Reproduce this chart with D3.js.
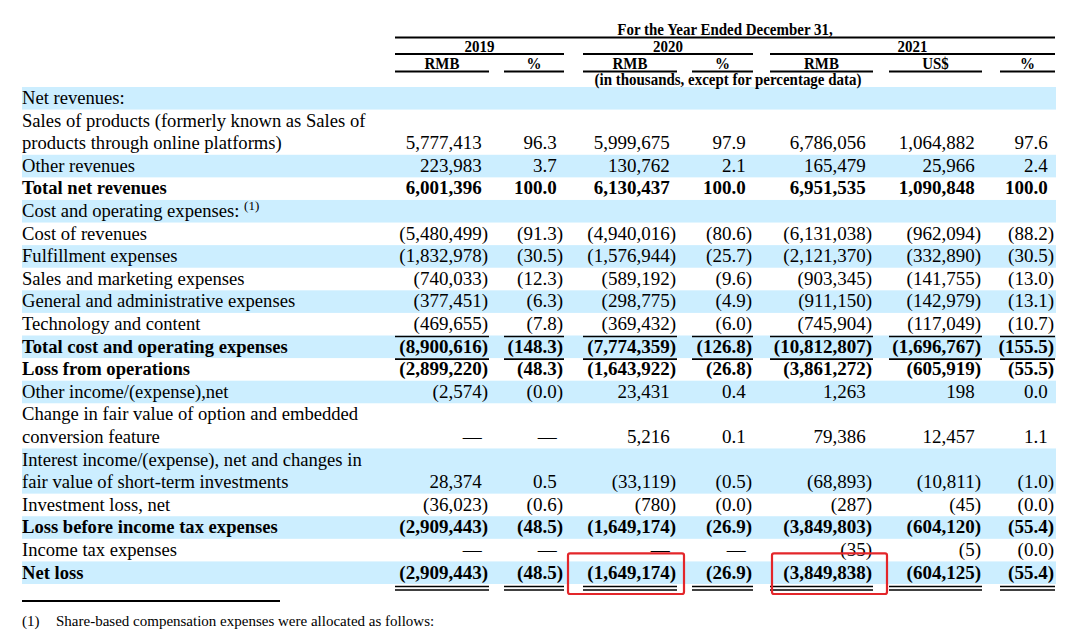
<!DOCTYPE html>
<html>
<head>
<meta charset="utf-8">
<script src="https://cdn.jsdelivr.net/npm/d3@7/dist/d3.min.js"></script>
<style>
  html, body { margin: 0; padding: 0; background: #fff; }
  svg { display: block; }
  text { font-family: "Liberation Serif", "Times New Roman", serif; fill: #000; }
</style>
</head>
<body>
<svg id="chart" width="1087" height="632"></svg>
<script>
// ---------- data ----------
const labels = [
  ["Net revenues:"],
  ["Sales of products (formerly known as Sales of", "products through online platforms)"],
  ["Other revenues"],
  ["Total net revenues"],
  ["Cost and operating expenses:"],
  ["Cost of revenues"],
  ["Fulfillment expenses"],
  ["Sales and marketing expenses"],
  ["General and administrative expenses"],
  ["Technology and content"],
  ["Total cost and operating expenses"],
  ["Loss from operations"],
  ["Other income/(expense),net"],
  ["Change in fair value of option and embedded", "conversion feature"],
  ["Interest income/(expense), net and changes in", "fair value of short-term investments"],
  ["Investment loss, net"],
  ["Loss before income tax expenses"],
  ["Income tax expenses"],
  ["Net loss"]
];
const boldRows = [3, 10, 11, 16, 18];
const footnoteRows = [4];

const rmb2019 = [null, 5777413, 223983, 6001396, null, -5480499, -1832978, -740033, -377451, -469655, -8900616, -2899220, -2574, "—", 28374, -36023, -2909443, "—", -2909443];
const pct2019 = [null, 96.3, 3.7, 100.0, null, -91.3, -30.5, -12.3, -6.3, -7.8, -148.3, -48.3, -0.0, "—", 0.5, -0.6, -48.5, "—", -48.5];
const rmb2020 = [null, 5999675, 130762, 6130437, null, -4940016, -1576944, -589192, -298775, -369432, -7774359, -1643922, 23431, 5216, -33119, -780, -1649174, "—", -1649174];
const pct2020 = [null, 97.9, 2.1, 100.0, null, -80.6, -25.7, -9.6, -4.9, -6.0, -126.8, -26.8, 0.4, 0.1, -0.5, -0.0, -26.9, "—", -26.9];
const rmb2021 = [null, 6786056, 165479, 6951535, null, -6131038, -2121370, -903345, -911150, -745904, -10812807, -3861272, 1263, 79386, -68893, -287, -3849803, -35, -3849838];
const usd2021 = [null, 1064882, 25966, 1090848, null, -962094, -332890, -141755, -142979, -117049, -1696767, -605919, 198, 12457, -10811, -45, -604120, -5, -604125];
const pct2021 = [null, 97.6, 2.4, 100.0, null, -88.2, -30.5, -13.0, -13.1, -10.7, -155.5, -55.5, 0.0, 1.1, -1.0, -0.0, -55.4, -0.0, -55.4];

const columns = [
  { key: "rmb2019", head: "RMB", values: rmb2019, pct: false },
  { key: "pct2019", head: "%",   values: pct2019, pct: true },
  { key: "rmb2020", head: "RMB", values: rmb2020, pct: false },
  { key: "pct2020", head: "%",   values: pct2020, pct: true },
  { key: "rmb2021", head: "RMB", values: rmb2021, pct: false },
  { key: "usd2021", head: "US$", values: usd2021, pct: false },
  { key: "pct2021", head: "%",   values: pct2021, pct: true }
];
const years = [
  { year: "2019", from: 0, to: 1 },
  { year: "2020", from: 2, to: 3 },
  { year: "2021", from: 4, to: 6 }
];
const titleText = "For the Year Ended December 31,";
const unitText = "(in thousands, except for percentage data)";
const footnoteMark = "(1)";
const footnoteText = "Share-based compensation expenses were allocated as follows:";
const highlighted = ["rmb2020", "rmb2021"];   // red boxes on Net loss row
const underlineAfter = [9, 10];                // single rules
const doubleAfter = [18];                      // double rule

// ---------- layout ----------
const svg = d3.select("#chart");
const LABEL_X = 22, BAND_RIGHT = 1056;
const colLeft = d3.scaleOrdinal().domain(columns.map(c => c.key)).range([395, 504, 583, 692, 770, 889, 1000]);
const colRight = d3.scaleOrdinal().domain(columns.map(c => c.key)).range([489, 564, 677, 753, 873, 982, 1055]);

// row units (two-line labels take two units)
const units = labels.map(l => l.length);
const starts = d3.cumsum([0, ...units]);
const totalUnits = d3.sum(units);
const y = d3.scaleLinear().domain([0, totalUnits]).range([87, 584]);

const LABEL_FS = 18.6, NUM_FS = 19;
const HEAD_FS = 17, HEAD_SX = 0.88;

// bands
svg.append("g").selectAll("rect")
  .data(labels.map((l, i) => i).filter(i => i % 2 === 0))
  .join("rect")
  .attr("x", LABEL_X).attr("width", BAND_RIGHT - LABEL_X)
  .attr("y", i => y(starts[i])).attr("height", i => y(starts[i + 1]) - y(starts[i]))
  .attr("fill", "#cceeff");

// labels
const lab = svg.append("g");
labels.forEach((lines, i) => {
  lines.forEach((line, j) => {
    const t = lab.append("text")
      .attr("x", LABEL_X)
      .attr("y", y(starts[i] + j + 1) - 5.5)
      .attr("font-size", LABEL_FS)
      .attr("font-weight", boldRows.includes(i) ? "bold" : "normal")
      .text(line);
    if (footnoteRows.includes(i) && j === lines.length - 1) {
      t.append("tspan").text("\u00a0");
      t.append("tspan").attr("font-size", 13).attr("dy", -7).text("(1)");
    }
  });
});

// measure paren width
const probe = svg.append("text").attr("font-size", NUM_FS).text(")");
const parenW = probe.node().getComputedTextLength();
probe.remove();

const fmtInt = d3.format(","), fmtPct = d3.format(".1f");
function fmt(v, isPct) {
  if (v === null || v === undefined) return null;
  if (typeof v === "string") return { t: v, neg: false };
  const neg = v < 0 || Object.is(v, -0);
  const s = (isPct ? fmtPct : fmtInt)(Math.abs(v));
  return { t: neg ? "(" + s + ")" : s, neg };
}

// values
const vals = svg.append("g");
columns.forEach(c => {
  c.values.forEach((v, i) => {
    const f = fmt(v, c.pct);
    if (!f) return;
    vals.append("text")
      .attr("x", colRight(c.key) - (f.neg ? 1 : parenW + 1))
      .attr("y", y(starts[i + 1]) - 5.5)
      .attr("text-anchor", "end")
      .attr("font-size", NUM_FS)
      .attr("font-weight", boldRows.includes(i) ? "bold" : "normal")
      .text(f.t);
  });
});

// rules below rows
const rules = svg.append("g").attr("stroke", "#000");
underlineAfter.forEach(i => {
  columns.forEach(c => {
    rules.append("line").attr("x1", colLeft(c.key)).attr("x2", colRight(c.key))
      .attr("y1", y(starts[i + 1]) + 1).attr("y2", y(starts[i + 1]) + 1).attr("stroke-width", 1.6);
  });
});
doubleAfter.forEach(i => {
  columns.forEach(c => {
    [2.5, 6].forEach(off => {
      rules.append("line").attr("x1", colLeft(c.key)).attr("x2", colRight(c.key))
        .attr("y1", y(starts[i + 1]) + off).attr("y2", y(starts[i + 1]) + off).attr("stroke-width", 1.6);
    });
  });
});

// header
const head = svg.append("g");
function headText(cx, yy, txt, fs) {
  head.append("text")
    .attr("transform", `translate(${cx},${yy}) scale(${HEAD_SX},1)`)
    .attr("text-anchor", "middle")
    .attr("font-size", fs || HEAD_FS).attr("font-weight", "bold")
    .text(txt);
}
function hLine(x1, x2, yy) {
  head.append("line").attr("x1", x1).attr("x2", x2).attr("y1", yy).attr("y2", yy)
    .attr("stroke", "#000").attr("stroke-width", 2);
}
const first = columns[0].key, last = columns[columns.length - 1].key;
const allMid = (colLeft(first) + colRight(last)) / 2;
headText(allMid, 35, titleText);
hLine(colLeft(first), colRight(last), 37.5);
years.forEach(g => {
  const a = colLeft(columns[g.from].key), b = colRight(columns[g.to].key);
  headText((a + b) / 2, 51.5, g.year);
  hLine(a, b, 54);
});
columns.forEach(c => {
  headText((colLeft(c.key) + colRight(c.key)) / 2, 69, c.head);
  hLine(colLeft(c.key), colRight(c.key), 71.5);
});
headText((colLeft("rmb2020") + colRight("rmb2021")) / 2, 85, unitText);

// red highlight boxes on the Net loss row
const lastRow = labels.length - 1;
svg.append("g").selectAll("rect")
  .data(highlighted)
  .join("rect")
  .attr("x", (k, i) => i === 0 ? colLeft(k) - 15 : colLeft(k) + 2)
  .attr("width", (k, i) => i === 0 ? colRight(k) - colLeft(k) + 22 : colRight(k) - colLeft(k) + 12)
  .attr("y", y(starts[lastRow]) - 8)
  .attr("height", y(starts[lastRow + 1]) - y(starts[lastRow]) + 18)
  .attr("rx", 2)
  .attr("fill", "none").attr("stroke", "#e3262a").attr("stroke-width", 2.2);

// footnote
const foot = svg.append("g");
foot.append("line").attr("x1", LABEL_X).attr("x2", 280).attr("y1", 601).attr("y2", 601)
  .attr("stroke", "#000").attr("stroke-width", 2);
foot.append("text").attr("x", LABEL_X).attr("y", 626).attr("font-size", 15).text(footnoteMark);
foot.append("text").attr("x", 56).attr("y", 626).attr("font-size", 15).text(footnoteText);
</script>
</body>
</html>
